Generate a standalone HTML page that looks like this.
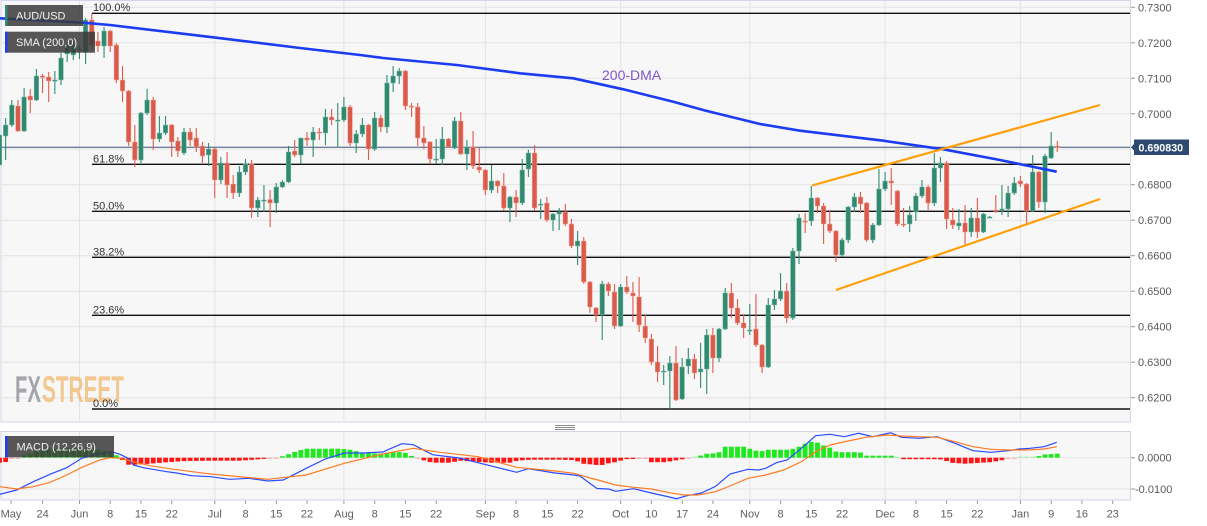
<!DOCTYPE html>
<html>
<head>
<meta charset="utf-8">
<style>
  html,body{margin:0;padding:0;background:#ffffff;}
  body{width:1207px;height:526px;overflow:hidden;}
  svg{display:block;}
  text{font-family:"Liberation Sans",Arial,sans-serif;}
</style>
</head>
<body>
<svg id="chart" width="1207" height="526" viewBox="0 0 1207 526" xmlns="http://www.w3.org/2000/svg">
  <!-- panel backgrounds -->
  <rect x="1" y="0.5" width="1129.5" height="421.5" fill="#f7f7f7" stroke="#cfd6e6" stroke-width="1"/>
  <rect x="1" y="431.5" width="1129.5" height="68.5" fill="#f7f7f7" stroke="#cfd6e6" stroke-width="1"/>

  <!-- grid -->
  <g stroke="#e3e3e3" stroke-width="1">
    <line x1="1" x2="1130" y1="7.3" y2="7.3"/>
    <line x1="1" x2="1130" y1="42.8" y2="42.8"/>
    <line x1="1" x2="1130" y1="78.3" y2="78.3"/>
    <line x1="1" x2="1130" y1="113.8" y2="113.8"/>
    <line x1="1" x2="1130" y1="149.3" y2="149.3"/>
    <line x1="1" x2="1130" y1="184.7" y2="184.7"/>
    <line x1="1" x2="1130" y1="220.2" y2="220.2"/>
    <line x1="1" x2="1130" y1="255.7" y2="255.7"/>
    <line x1="1" x2="1130" y1="291.2" y2="291.2"/>
    <line x1="1" x2="1130" y1="326.7" y2="326.7"/>
    <line x1="1" x2="1130" y1="362.2" y2="362.2"/>
    <line x1="1" x2="1130" y1="397.7" y2="397.7"/>
    <line x1="79.5" x2="79.5" y1="1" y2="421"/>
    <line x1="214.8" x2="214.8" y1="1" y2="421"/>
    <line x1="343.9" x2="343.9" y1="1" y2="421"/>
    <line x1="485.4" x2="485.4" y1="1" y2="421"/>
    <line x1="620.7" x2="620.7" y1="1" y2="421"/>
    <line x1="749.8" x2="749.8" y1="1" y2="421"/>
    <line x1="885.1" x2="885.1" y1="1" y2="421"/>
    <line x1="1020.4" x2="1020.4" y1="1" y2="421"/>
    <!-- macd grid -->
    <line x1="1" x2="1130" y1="457.7" y2="457.7"/>
    <line x1="1" x2="1130" y1="489" y2="489"/>
    <line x1="79.5" x2="79.5" y1="432" y2="500"/>
    <line x1="214.8" x2="214.8" y1="432" y2="500"/>
    <line x1="343.9" x2="343.9" y1="432" y2="500"/>
    <line x1="485.4" x2="485.4" y1="432" y2="500"/>
    <line x1="620.7" x2="620.7" y1="432" y2="500"/>
    <line x1="749.8" x2="749.8" y1="432" y2="500"/>
    <line x1="885.1" x2="885.1" y1="432" y2="500"/>
    <line x1="1020.4" x2="1020.4" y1="432" y2="500"/>
  </g>

  <!-- FXSTREET watermark -->
  <g opacity="0.75" font-weight="bold">
    <text x="15" y="402" font-size="37" fill="#8a8c93" textLength="26" lengthAdjust="spacingAndGlyphs">FX</text>
    <text x="42" y="402" font-size="37" fill="#f2b86e" textLength="82" lengthAdjust="spacingAndGlyphs">STREET</text>
  </g>

  <!-- fib lines -->
  <g stroke="#111" stroke-width="1.4">
    <line x1="92" x2="1130" y1="13.3" y2="13.3"/>
    <line x1="92" x2="1130" y1="164.3" y2="164.3"/>
    <line x1="92" x2="1130" y1="211.3" y2="211.3"/>
    <line x1="92" x2="1130" y1="257.3" y2="257.3"/>
    <line x1="92" x2="1130" y1="315.3" y2="315.3"/>
    <line x1="92" x2="1130" y1="409" y2="409"/>
  </g>
  <g font-size="11" fill="#333">
    <text x="93" y="11">100.0%</text>
    <text x="93" y="162.3">61.8%</text>
    <text x="93" y="209.3">50.0%</text>
    <text x="93" y="255.3">38.2%</text>
    <text x="93" y="313.3">23.6%</text>
    <text x="93" y="407">0.0%</text>
  </g>

  <!-- current price line -->
  <line x1="1" x2="1130" y1="147.3" y2="147.3" stroke="#3b5478" stroke-width="1"/>

  <!-- candles (generated) -->
  <g id="candles"></g>
  <!-- macd histogram (generated) -->
  <g id="hist"></g>

  <!-- MACD lines -->
  <polyline id="macdLine" fill="none" stroke="#2a4bff" stroke-width="1.2" points=""/>
  <polyline id="sigLine" fill="none" stroke="#ff7b22" stroke-width="1.2" points=""/>

  <!-- SMA 200 -->
  <polyline fill="none" stroke="#1b3cf2" stroke-width="2.6" stroke-linejoin="round"
    points="0,18.3 83,22.7 110,25 213,37.3 300,48 360,55 383,58 456.7,65 520,73.3 573.3,78.3 623.3,89.3 673.3,101.7 705,110.5 760,124 800,130.7 883.3,140.7 943.3,149.3 1000,160 1056.7,171.7"/>

  <!-- channel lines -->
  <line x1="812" y1="185.5" x2="1100" y2="105" stroke="#ff9f0a" stroke-width="2.2"/>
  <line x1="836" y1="290" x2="1100" y2="199" stroke="#ff9f0a" stroke-width="2.2"/>

  <text x="602" y="80" font-size="14" fill="#7e57c6">200-DMA</text>

  <!-- legend boxes -->
  <rect x="5" y="5" width="78" height="21" fill="rgba(58,58,58,0.85)"/>
  <rect x="5" y="5" width="2.5" height="21" fill="#2e8b74"/>
  <text x="16" y="19.6" font-size="11" fill="#f2f2f2">AUD/USD</text>

  <rect x="5" y="31.7" width="90" height="21" fill="rgba(58,58,58,0.85)"/>
  <rect x="5" y="31.7" width="2.5" height="21" fill="#1a3cff"/>
  <text x="16" y="46.2" font-size="11" fill="#f2f2f2">SMA (200,0)</text>

  <rect x="5" y="436" width="109" height="21.3" fill="rgba(58,58,58,0.85)"/>
  <rect x="5" y="436" width="2.5" height="21.3" fill="#1a3cff"/>
  <text x="16.5" y="450.7" font-size="11" fill="#f2f2f2">MACD (12,26,9)</text>

  <!-- pane separator handle -->
  <g stroke="#8a8a8a" stroke-width="1">
    <line x1="555" x2="575" y1="425.5" y2="425.5"/>
    <line x1="555" x2="575" y1="427.5" y2="427.5"/>
    <line x1="555" x2="575" y1="429.5" y2="429.5"/>
  </g>

  <!-- right axis ticks + labels -->
  <g stroke="#999" stroke-width="1">
    <line x1="1131" x2="1135" y1="7.3" y2="7.3"/>
    <line x1="1131" x2="1135" y1="42.8" y2="42.8"/>
    <line x1="1131" x2="1135" y1="78.3" y2="78.3"/>
    <line x1="1131" x2="1135" y1="113.8" y2="113.8"/>
    <line x1="1131" x2="1135" y1="184.7" y2="184.7"/>
    <line x1="1131" x2="1135" y1="220.2" y2="220.2"/>
    <line x1="1131" x2="1135" y1="255.7" y2="255.7"/>
    <line x1="1131" x2="1135" y1="291.2" y2="291.2"/>
    <line x1="1131" x2="1135" y1="326.7" y2="326.7"/>
    <line x1="1131" x2="1135" y1="362.2" y2="362.2"/>
    <line x1="1131" x2="1135" y1="397.7" y2="397.7"/>
    <line x1="1131" x2="1135" y1="457.7" y2="457.7"/>
    <line x1="1131" x2="1135" y1="489" y2="489"/>
  </g>
  <g font-size="11" fill="#595959">
    <text x="1138" y="11.3">0.7300</text>
    <text x="1138" y="46.8">0.7200</text>
    <text x="1138" y="82.3">0.7100</text>
    <text x="1138" y="117.8">0.7000</text>
    <text x="1138" y="188.7">0.6800</text>
    <text x="1138" y="224.2">0.6700</text>
    <text x="1138" y="259.7">0.6600</text>
    <text x="1138" y="295.2">0.6500</text>
    <text x="1138" y="330.7">0.6400</text>
    <text x="1138" y="366.2">0.6300</text>
    <text x="1138" y="401.7">0.6200</text>
    <text x="1138" y="461.7">0.0000</text>
    <text x="1135" y="493">-0.0100</text>
  </g>

  <!-- price tag -->
  <polygon points="1131,147.3 1134,144 1134,139.5 1189,139.5 1189,155 1134,155 1134,150.6" fill="#2d4a70"/>
  <text x="1138.5" y="151.4" font-size="10.7" font-weight="bold" fill="#ffffff">0.690830</text>

  <!-- x axis ticks + labels -->
  <g id="xticks" stroke="#999" stroke-width="1"></g>
  <g font-size="11" fill="#5f5f5f" text-anchor="middle">
    <text x="11" y="517.3">May</text>
    <text x="42.6" y="517.3">24</text>
    <text x="79.5" y="517.3">Jun</text>
    <text x="110.2" y="517.3">8</text>
    <text x="141" y="517.3">15</text>
    <text x="171.8" y="517.3">22</text>
    <text x="214.8" y="517.3">Jul</text>
    <text x="245.5" y="517.3">8</text>
    <text x="276.3" y="517.3">15</text>
    <text x="307" y="517.3">22</text>
    <text x="343.9" y="517.3">Aug</text>
    <text x="374.7" y="517.3">8</text>
    <text x="405.4" y="517.3">15</text>
    <text x="436.2" y="517.3">22</text>
    <text x="485.4" y="517.3">Sep</text>
    <text x="516.1" y="517.3">8</text>
    <text x="547.3" y="517.3">15</text>
    <text x="577.6" y="517.3">22</text>
    <text x="620.7" y="517.3">Oct</text>
    <text x="651.4" y="517.3">10</text>
    <text x="682.2" y="517.3">17</text>
    <text x="712.9" y="517.3">24</text>
    <text x="749.8" y="517.3">Nov</text>
    <text x="780.6" y="517.3">8</text>
    <text x="811.3" y="517.3">15</text>
    <text x="842.1" y="517.3">22</text>
    <text x="885.1" y="517.3">Dec</text>
    <text x="915.9" y="517.3">8</text>
    <text x="946.6" y="517.3">15</text>
    <text x="977.4" y="517.3">22</text>
    <text x="1020.4" y="517.3">Jan</text>
    <text x="1051.2" y="517.3">9</text>
    <text x="1081.9" y="517.3">16</text>
    <text x="1112.7" y="517.3">23</text>
  </g>
</svg>

<script>
(function(){
  var NS="http://www.w3.org/2000/svg";
  function el(tag,attrs,parent){var e=document.createElementNS(NS,tag);for(var k in attrs)e.setAttribute(k,attrs[k]);parent.appendChild(e);return e;}
  var C=[
[165,135,130,168],[136,125,118,160],[125,105,100,127],[106,131,100,132],[131,97,88,132],
[96,100,89,113],[100,76,69,101],[76,77.5,74,93],[77,81,72,102],[81,80,71,94],
[80,58,53,85],[54,45,44,62],[55,45,42,60],[50,49,45,59],[52,20,18,64],
[20,45,13.5,50],[41,46,32,52],[46,31,27,58],[31,46,30,52],[45,80,43,83],
[80,91,66,102],[91,142,90,146],[142,160,125,167],[160,113,112,163],[113,100,89,115],
[100,139,97,150],[139,133,116,142],[133,125,116,135],[125,142,124,157],[141,151,137,157],
[153,132,128,155],[132,140,128,146],[138,147,128,152],[146,156,142,163],[155,149,143,166],
[149,180,148,198],[180,163,157,184],[163,185,152,198],[184,193,175,199],[193,172,166,197],
[172,164,159,175],[164,208,160,218],[208,200,197,217],[200.5,200,185,212],[199.5,203,190,227],
[203,187,183,213],[187,182,180,188],[182,152,146,183],[151,155,140,157],[155,138,138,164],
[138,140,132,146],[140,132,127,157],[132,133,128,140],[133,117,109,145],[117,120,109,125],
[120.5,120,103,147],[120,107,97,122],[107,143,105,146],[143,134,130,153],[134,125,118,137],
[125,149,124,160],[149,118,112,151],[118,127,115,132],[127,83,75,133],[83,76,66,92],
[76,71,68,84],[71,106,70,110],[106,107,103,117],[107,138,103,146],[138,143,126,149],
[142,159,141,164],[159.5,159,139,164],[159,139,127,165],[139,147,138,148],[148,121,117,149],
[121,154,112,155],[154,147,140,170],[147,166,131,169],[167,170,148,173],[170,190,169,195],
[190,181,165,193],[181,186,180,193],[186,208,173,211],[208,197,196,222],[197,203,190,217],
[203,170,159,205],[169,153,150,177],[153,208,145,211],[205,204,199,219],[203,220,197,222],
[220,214,213,231],[214,212,208,230],[212,224,204,226],[224,246,219,248],[246,241,231,265],
[241,282,237,284],[282,307,281,313],[308,315,307,322],[315,284,281,340],[284,291,282,296],
[292,326,284,329],[326,287,284,327],[287,292,276,294],[293,296,282,322],[297,325,277,332],
[326,338,315,343],[339,362,334,365],[362,372,346,382],[371.5,371,365,385],[371,363,356,409],
[363,400,346,401],[399,367,358,400],[366,359,348,374],[359,373,354,379],[372,369,343,388],
[369,335,329,394],[335,358,328,373],[358,329,328,362],[329,293,288,330],[293,308,283,318],
[308,323,299,325],[323,328,315,338],[330.5,330,304,335],[329,345,294,347],[345,367,344,373],
[367,305,298,368],[305,299,290,310],[299,291,273,301],[291,318,283,323],[318,251,248,320],
[251,218,214,264],[221,222,213,233],[221,198,186,226],[198,206,197,213],[206,224,203,244],
[224,231,210,233],[231,255,230,262],[255,240,238,257],[240,207,206,243],[207,197,193,212],
[197,204,192,213],[203,240,202,242],[240,225,223,243],[225,189,169,226],[189,181,172,191],
[181,183,168,205],[191,224,190,226],[224,225,208,227],[224,215,206,232],[212,196,193,221],
[196,187,180,198],[187,203,185,210],[203,168,153,206],[168,163,157,182],[163,219,161,229],
[220,225,208,229],[226,223,209,230],[223,232,205,245],[232,218,208,237],[218,232,198,238],
[232,214,213,233],[217.5,217,216,218],[210,211,195,213],[211,209,185,215],[209,193,186,217],
[193,183,177,195],[181,184,176,187],[184,211,183,224],[211,172,155,212],[172,202,171,208],
[202,156,154,213],[158,146,132,159],[146,147,141,152]
  ];
  var G="#2f8a70", R="#dc5a4a";
  var cg=document.getElementById("candles");
  for(var i=0;i<C.length;i++){
    var c=C[i], x=-0.5+6.15*i, up=c[1]<=c[0], col=up?G:R;
    el("line",{x1:x,x2:x,y1:c[2],y2:c[3],stroke:col,"stroke-width":1.1},cg);
    var top=Math.min(c[0],c[1]), h=Math.max(Math.abs(c[0]-c[1]),1.2);
    el("rect",{x:x-2.3,y:top,width:4.6,height:h,fill:col,stroke:up?"#7fb8a8":"#eda096","stroke-width":0.5},cg);
  }
  // histogram
  var H=[[0,-5],[8,-4],[12,-1],[18,0],[22,2],[28,3],[35,6],[45,7.5],[55,9],[70,10],[85,8],[100,8],[108,6],[115,3],[120,1],
  [126,-7],[135,-7],[150,-6],[165,-4.7],[185,-3.3],[210,-3],[240,-3],[260,-1.5],[275,-0.5],[281,1],[290,4],[298,7],[306,9],
  [340,9],[350,8],[363,5],[380,4],[395,6],[405,5],[413,1],[418,-1],[425,-3],[432,-5],[450,-5],[460,-3],[475,-4],[490,-5],
  [510,-5],[517,-3],[530,-2],[560,-2],[575,-2.5],[583,-6],[595,-7],[600,-8],[606,-6],[618,-4],[624,-1.5],[645,-1],[650,-4.5],
  [665,-4.5],[680,-2],[688,-0.5],[694,0.5],[700,2],[707,4],[718,4.5],[725,11],[745,11],[752,8],[760,6],[767,8],[790,8],
  [797,10],[805,14],[812,16],[818,15],[824,12],[830,10],[837,5.5],[860,5.5],[866,2],[894,2],[900,-1.5],[937,-1.5],[944,-2],
  [950,-5],[965,-6],[990,-4.5],[1000,-3],[1008,-1],[1014,-0.5],[1020,0.5],[1037,0.5],[1041,3],[1057,4]];
  function interp(x){
    if(x<=H[0][0])return H[0][1];
    for(var k=1;k<H.length;k++){if(x<=H[k][0]){var a=H[k-1],b=H[k];return a[1]+(b[1]-a[1])*(x-a[0])/(b[0]-a[0]);}}
    return H[H.length-1][1];
  }
  var hg=document.getElementById("hist"), Z=457.7;
  for(var i=0;i<C.length;i++){
    var x=-0.5+6.15*i, v=interp(x);
    var mag=Math.abs(v);
    var col = v>=0 ? (mag<1.2?"#9df59d":"#1ee81e") : (mag<1.2?"#f7a0a0":"#ff1414");
    var hh=Math.max(mag,1);
    el("rect",{x:x-2.4,y:v>=0?Z-hh:Z,width:4.8,height:hh,fill:col},hg);
  }
  var M=[[0,494.3],[16.7,490],[33.3,481.7],[50,474.3],[66.7,467.7],[81.7,458.3],[96.7,454.3],[111.7,451.7],[120,454.3],[128.3,458.3],
  [133.3,465],[143.3,467.7],[166.7,471.7],[176.7,473],[191.4,475.7],[210.5,476.7],[229.6,479.3],[248.8,478.3],[267.9,481],[283.2,480],
  [306.2,468.3],[325.3,459],[344.4,453],[363.6,453],[382.7,452],[401.8,443.7],[413.3,444.7],[432.5,454.7],[459.2,458],[486,464.7],
  [516.6,472.3],[528.1,468.7],[555,473],[574,475],[580,476],[588,482],[597,488.5],[608.6,489],[615.7,491.3],[633.6,488.7],[651.4,493],
  [669.3,497],[676.4,498.7],[687.1,495.7],[701.4,493],[715.7,486.3],[730,474],[747.9,469.3],[758.6,470],[765.7,468.3],[776.4,462.7],
  [787.1,460],[801.4,448.3],[815.7,435.7],[830,434.3],[844.3,436.7],[858.6,433.3],[872.9,436.7],[890.7,432.7],[901.4,437.3],
  [919.3,438.3],[937.1,436.7],[955,443.3],[972.9,450.7],[990.7,452.3],[1008.6,450.7],[1019.3,449],[1030,448.3],[1044.3,446.7],[1056.8,442.3]];
  var S=[[0,486.7],[16.7,489],[33.3,486.7],[50,482.3],[66.7,475],[83.3,466.7],[100,460],[110,457.7],[120,458.3],[133.3,461.7],
  [150,465.7],[166.7,468.3],[200,472.7],[210.5,474],[267.9,479.3],[306.2,475],[344.4,463.3],[382.7,454],[413.3,448.3],[440,452.3],
  [478.4,456.7],[516.6,467.3],[555,471],[574,473.3],[590,478],[597.9,480],[615.7,485],[633.6,487.3],[651.4,489],[669.3,492.7],
  [683.6,495],[697.9,495],[715.7,491.7],[730,486],[747.9,478.3],[765.7,475],[783.6,470],[801.4,461.7],[815.7,451.7],[830,445],
  [847.9,441],[865.7,437.3],[887.1,435],[901.4,436],[919.3,436.7],[937.1,437.3],[955,441.7],[972.9,446.7],[990.7,449.3],
  [1008.6,450],[1026.4,450],[1044.3,449],[1056.8,446.7]];
  function pts(a){return a.map(function(p){return p[0]+","+p[1];}).join(" ");}
  document.getElementById("macdLine").setAttribute("points",pts(M));
  document.getElementById("sigLine").setAttribute("points",pts(S));
  // x ticks
  var tx=[11,42.6,79.5,110.2,141,171.8,214.8,245.5,276.3,307,343.9,374.7,405.4,436.2,485.4,516.1,547.3,577.6,620.7,651.4,682.2,712.9,749.8,780.6,811.3,842.1,885.1,915.9,946.6,977.4,1020.4,1051.2,1081.9,1112.7];
  var xt=document.getElementById("xticks");
  tx.forEach(function(x){el("line",{x1:x,x2:x,y1:500.5,y2:504},xt);});
})();
</script>
</body>
</html>
